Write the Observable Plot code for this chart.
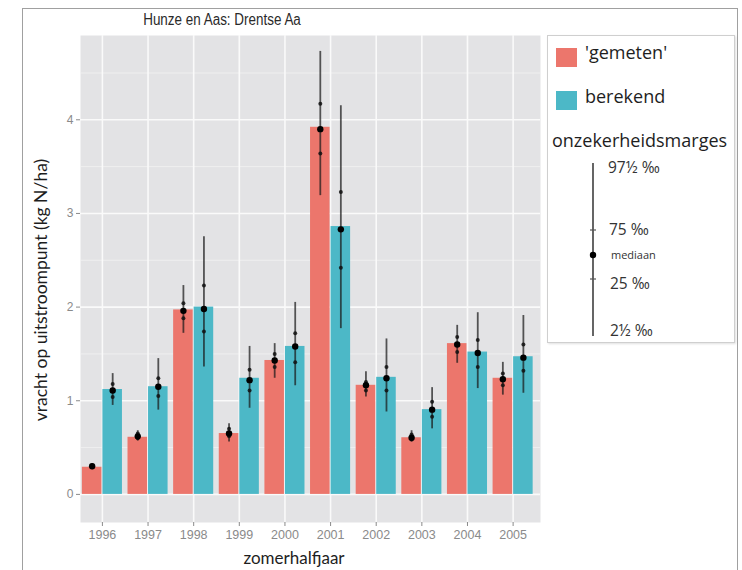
<!DOCTYPE html>
<html>
<head>
<meta charset="utf-8">
<script src="https://cdn.jsdelivr.net/npm/d3@7"></script>
<script src="https://cdn.jsdelivr.net/npm/@observablehq/plot@0.6"></script>
<style>
  html, body { margin: 0; padding: 0; background: #fff; }
  #wrap { position: relative; width: 742px; height: 570px; overflow: hidden; background: #fff; }
  #border { position: absolute; left: 22px; top: 8px; width: 716px; height: 600px; border: 1.5px solid #a0a0a0; box-sizing: border-box; }
  #chart { position: absolute; left: 0; top: 0; }
  .title { position: absolute; left: 222px; top: 11px; transform: translateX(-50%) scaleX(0.84); font-family: "Liberation Sans", Arial, sans-serif; font-size: 16px; color: #2a2a2a; white-space: nowrap; }
  .ylab { position: absolute; left: 40px; top: 290px; transform: translate(-50%, -50%) rotate(-90deg); font-family: Lato, "Open Sans", sans-serif; font-size: 17.5px; color: #1e1e1e; white-space: nowrap; }
  .xlab { position: absolute; left: 294px; top: 547px; transform: translateX(-50%); font-family: Lato, "Open Sans", sans-serif; font-size: 17px; color: #1e1e1e; white-space: nowrap; }
  #legend { position: absolute; left: 547px; top: 35px; width: 188px; height: 308px; border: 1px solid #cfcfcf; box-sizing: border-box; background: #fff; box-shadow: 1px 1px 2px rgba(0,0,0,0.12); font-family: "Open Sans", Lato, sans-serif; color: #1e1e1e; }
  .sw { position: absolute; left: 8px; width: 21px; height: 19px; }
  .lt { position: absolute; font-size: 18px; white-space: nowrap; }
  .pt { position: absolute; font-size: 15.5px; white-space: nowrap; color: #333; }
</style>
</head>
<body>
<div id="wrap">
  <div id="border"></div>
  <div id="chart"></div>
  <div class="title">Hunze en Aas: Drentse Aa</div>
  <div class="ylab">vracht op uitstroompunt (kg N/ha)</div>
  <div class="xlab">zomerhalfjaar</div>
  <div id="legend">
    <div class="sw" style="top:12px;background:#ec766c"></div>
    <div class="lt" style="left:37px;top:4px">'gemeten'</div>
    <div class="sw" style="top:55px;background:#4cb8c7"></div>
    <div class="lt" style="left:37px;top:48px">berekend</div>
    <div class="lt" style="left:4px;top:92px">onzekerheidsmarges</div>
    <svg style="position:absolute;left:0;top:0" width="186" height="306">
      <line x1="45" x2="45" y1="127" y2="300" stroke="#555" stroke-width="1.8"/>
      <line x1="42" x2="48" y1="194" y2="194" stroke="#555" stroke-width="1.2"/>
      <line x1="42" x2="48" y1="243" y2="243" stroke="#555" stroke-width="1.2"/>
      <circle cx="45" cy="219" r="3.2" fill="#000"/>
    </svg>
    <div class="pt" style="left:60px;top:120px">97½ ‰</div>
    <div class="pt" style="left:61px;top:182px">75 ‰</div>
    <div class="pt" style="left:63px;top:211px;font-size:11px">mediaan</div>
    <div class="pt" style="left:62px;top:236px">25 ‰</div>
    <div class="pt" style="left:62px;top:283px">2½ ‰</div>
  </div>
</div>
<script>
const years = [1996, 1997, 1998, 1999, 2000, 2001, 2002, 2003, 2004, 2005];
const series = ["gemeten", "berekend"];

const gemeten      = [0.29, 0.61, 1.97, 0.65, 1.43, 3.92, 1.165, 0.605, 1.61, 1.24];
const gemeten_p975 = [0.32, 0.68, 2.23, 0.755, 1.61, 4.73, 1.31, 0.68, 1.805, 1.41];
const gemeten_p75  = [0.31, 0.65, 2.04, 0.70, 1.50, 4.17, 1.20, 0.64, 1.68, 1.29];
const gemeten_med  = [0.30, 0.62, 1.96, 0.65, 1.43, 3.90, 1.165, 0.605, 1.60, 1.23];
const gemeten_p25  = [0.29, 0.60, 1.88, 0.62, 1.36, 3.64, 1.11, 0.585, 1.52, 1.165];
const gemeten_p025 = [0.28, 0.57, 1.72, 0.56, 1.24, 3.19, 1.04, 0.56, 1.40, 1.06];

const berekend      = [1.12, 1.15, 2.00, 1.24, 1.58, 2.86, 1.25, 0.905, 1.52, 1.47];
const berekend_p975 = [1.29, 1.45, 2.75, 1.58, 2.05, 4.15, 1.66, 1.14, 1.94, 1.91];
const berekend_p75  = [1.18, 1.24, 2.23, 1.33, 1.72, 3.23, 1.36, 0.99, 1.65, 1.60];
const berekend_med  = [1.11, 1.15, 1.98, 1.22, 1.58, 2.83, 1.24, 0.905, 1.51, 1.46];
const berekend_p25  = [1.04, 1.05, 1.74, 1.11, 1.41, 2.42, 1.11, 0.83, 1.36, 1.32];
const berekend_p025 = [0.95, 0.90, 1.36, 0.92, 1.16, 1.77, 0.88, 0.70, 1.13, 1.08];

const yTicks = [0, 1, 2, 3, 4];
const yMinor = [0.5, 1.5, 2.5, 3.5, 4.5];

const half = 0.45; // half of dodge width, in year units
const rows = [];
years.forEach((yr, i) => {
  rows.push({year: yr, type: "gemeten", x1: yr - half, x2: yr, xc: yr - half / 2,
    value: gemeten[i], lo: gemeten_p025[i], q25: gemeten_p25[i], med: gemeten_med[i], q75: gemeten_p75[i], hi: gemeten_p975[i]});
  rows.push({year: yr, type: "berekend", x1: yr, x2: yr + half, xc: yr + half / 2,
    value: berekend[i], lo: berekend_p025[i], q25: berekend_p25[i], med: berekend_med[i], q75: berekend_p75[i], hi: berekend_p975[i]});
});
const quart = rows.flatMap(d => [{xc: d.xc, v: d.q25}, {xc: d.xc, v: d.q75}]);

const chart = Plot.plot({
  width: 742,
  height: 570,
  marginLeft: 80,
  marginRight: 202,
  marginTop: 35,
  marginBottom: 48,
  style: {background: "transparent", overflow: "visible"},
  x: {domain: [1995.52, 2005.6]},
  y: {domain: [-0.3, 4.9]},
  color: {domain: series, range: ["#ec766c", "#4cb8c7"]},
  marks: [
    Plot.frame({fill: "#e3e3e5", stroke: null}),
    Plot.ruleY(yMinor, {stroke: "#f2f2f2", strokeWidth: 0.8}),
    Plot.ruleY(yTicks, {stroke: "#fafafa", strokeWidth: 1.6}),
    Plot.ruleX(years, {stroke: "#fafafa", strokeWidth: 1.6}),
    Plot.rectY(rows, {x1: "x1", x2: "x2", y1: 0, y2: "value", fill: "type", insetLeft: 0.5, insetRight: 0.5}),
    Plot.ruleX(rows, {x: "xc", y1: "lo", y2: "hi", stroke: "#1a1a1a", strokeOpacity: 0.72, strokeWidth: 1.8}),
    Plot.dot(quart, {x: "xc", y: "v", r: 2, fill: "#111", fillOpacity: 0.85}),
    Plot.dot(rows, {x: "xc", y: "med", r: 3.2, fill: "#000"}),
    Plot.axisY({ticks: yTicks, tickSize: 4, tickPadding: 3, label: null, stroke: "#8a8a8a", fill: "#8a8a8a",
      fontSize: 12, fontFamily: "Liberation Sans, sans-serif", tickFormat: d => String(d)}),
    Plot.axisX({ticks: years, tickSize: 4, tickPadding: 4, label: null, stroke: "#8a8a8a", fill: "#8a8a8a",
      fontSize: 12.5, fontFamily: "Liberation Sans, sans-serif", tickFormat: d => String(d)})
  ]
});
document.getElementById("chart").appendChild(chart);
</script>
</body>
</html>
